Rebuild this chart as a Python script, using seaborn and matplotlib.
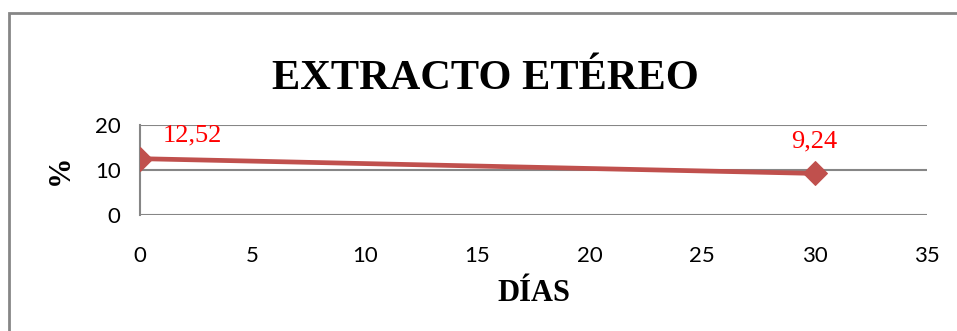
import matplotlib
matplotlib.use("Agg")
import matplotlib.pyplot as plt
import seaborn as sns
import pandas as pd
from matplotlib.patches import Rectangle

dias = [0, 30]
valores = [12.52, 9.24]
etiquetas = ["12,52", "9,24"]
xticks = [0, 5, 10, 15, 20, 25, 30, 35]
yticks = [0, 10, 20]

df = pd.DataFrame({"dias": dias, "valor": valores})

sns.set_style("white")
plt.rcParams['font.family'] = ['Liberation Serif', 'DejaVu Serif']
plt.rcParams['text.color'] = 'black'
plt.rcParams['axes.labelcolor'] = 'black'
plt.rcParams['xtick.color'] = 'black'
plt.rcParams['ytick.color'] = 'black'

fig = plt.figure(figsize=(9.57, 3.31), dpi=100)
ax = fig.add_axes([140/957, 1-215/331, 787/957, 90/331])

sns.lineplot(data=df, x="dias", y="valor", ax=ax, color="#C0504D", linewidth=3.4,
             marker="D", markersize=12, markeredgecolor="#C0504D", zorder=3)

ax.set_xlim(0, 35)
ax.set_ylim(0, 20)
ax.set_xticks(xticks)
ax.set_yticks(yticks)
tickfont = ['Lato', 'DejaVu Sans']
ax.set_xticklabels([str(t) for t in xticks], fontsize=16, family=tickfont)
ax.set_yticklabels([str(t) for t in yticks], fontsize=16, family=tickfont)
ax.tick_params(axis='x', length=0, pad=22)
ax.tick_params(axis='y', length=0, pad=14)
ax.grid(axis='y', color='#868686', linewidth=1.5)
ax.set_axisbelow(True)
for s in ['top', 'right', 'bottom']:
    ax.spines[s].set_visible(False)
ax.spines['left'].set_color('#868686')
ax.spines['left'].set_linewidth(1.5)

offsets = [(38, 9), (0, 15)]
for x, y, t, off in zip(dias, valores, etiquetas, offsets):
    ax.annotate(t, (x, y), xytext=off, textcoords='offset points', ha='center', va='bottom',
                color='red', fontsize=19)

ax.set_xlabel("DÍAS", fontsize=22, fontweight='bold', labelpad=10)
ax.set_ylabel("%", fontsize=22, fontweight='bold', labelpad=14)

fig.text(485/957, 1-79/331, "EXTRACTO ETÉREO", ha='center', va='center', fontsize=30.5, fontweight='bold')

fig.patches.append(Rectangle((9/957, -0.1), 1.2, (331-13)/331 + 0.1, transform=fig.transFigure,
                             fill=False, edgecolor='#868686', linewidth=2))

fig.savefig("out.png", dpi=100)
